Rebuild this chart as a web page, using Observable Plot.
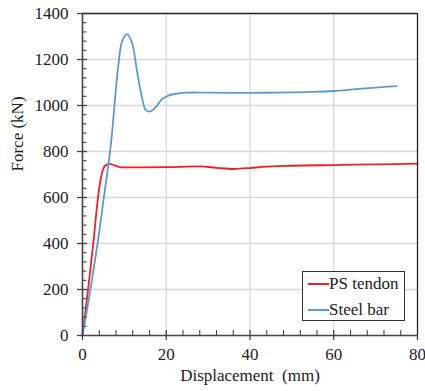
<!DOCTYPE html>
<html>
<head>
<meta charset="utf-8">
<script src="https://cdn.jsdelivr.net/npm/d3@7"></script>
<script src="https://cdn.jsdelivr.net/npm/@observablehq/plot@0.6"></script>
<style>
  body { margin: 0; background: white; }
  #wrap { position: relative; width: 425px; height: 391px; font-family: "Liberation Serif", "Times New Roman", serif; }
  #wrap svg text { font-family: "Liberation Serif", "Times New Roman", serif; }
  #legend { position: absolute; left: 302px; top: 271px; width: 101px; height: 48px; border: 1px solid #333; background: white; }
  .row { position: absolute; left: 0; height: 20px; font-size: 17px; line-height: 20px; color: #222; white-space: nowrap; }
  .row .sw { position: absolute; left: 5px; top: 9px; width: 21px; height: 0; border-top: 2px solid; }
  .row span.t { position: absolute; left: 26px; top: 0; }
</style>
</head>
<body>
<div id="wrap"></div>
<script>
// Data
const seriesNames = ["PS tendon", "Steel bar"];
const seriesColors = ["#f02020", "#5b9bd5"];

const psDisp  = [0, 1.3, 2.6, 3.7, 4.4, 5.1, 5.8, 6.5, 7.9, 9.5, 12, 20, 28, 32, 36, 40, 43, 50, 60, 70, 80];
const psForce = [0, 195, 405, 600, 685, 730, 743, 746, 738, 731, 731, 732, 735, 729, 724, 728, 733, 738, 741, 744, 747];

const steelDisp  = [0, 1.9, 3.6, 5.1, 6.6, 7.1, 8.5, 9.5, 10.7, 11.9, 13.0, 14.2, 15.0, 16.0, 17.4, 19.0, 20.4, 22, 25, 30, 40, 50, 55, 60, 63, 66, 70, 75];
const steelForce = [0, 200, 400, 600, 803, 890, 1165, 1281, 1310, 1267, 1151, 1035, 984, 973, 991, 1028, 1042, 1050, 1056, 1056, 1055, 1057, 1059, 1063, 1067, 1072, 1078, 1084];

const xMajor = [0, 20, 40, 60, 80];
const xMinor = [4, 8, 12, 16, 24, 28, 32, 36, 44, 48, 52, 56, 64, 68, 72, 76];
const yMajor = [0, 200, 400, 600, 800, 1000, 1200, 1400];
const yMinor = [40, 80, 120, 160, 240, 280, 320, 360, 440, 480, 520, 560, 640, 680, 720, 760, 840, 880, 920, 960, 1040, 1080, 1120, 1160, 1240, 1280, 1320, 1360];

const psData = psDisp.map((d, i) => ({x: d, y: psForce[i]}));
const steelData = steelDisp.map((d, i) => ({x: d, y: steelForce[i]}));

const W = 425, H = 391, mL = 82, mR = 8, mT = 13, mB = 56;
const innerW = W - mL - mR, innerH = H - mT - mB;
const axisColor = "#444";
const serif = "Liberation Serif";

const chart = Plot.plot({
  width: W, height: H,
  marginLeft: mL, marginRight: mR, marginTop: mT, marginBottom: mB,
  x: {domain: [0, 80]},
  y: {domain: [0, 1400]},
  style: {fontFamily: serif, fontSize: "17px", color: "#222", background: "white", overflow: "visible"},
  marks: [
    Plot.gridX(xMajor.slice(1, -1), {stroke: "#d9d9d9", strokeOpacity: 1, strokeWidth: 1.3}),
    Plot.gridY(yMajor.slice(1, -1), {stroke: "#d9d9d9", strokeOpacity: 1, strokeWidth: 1.3}),
    Plot.line(psData, {x: "x", y: "y", stroke: seriesColors[0], strokeWidth: 1.8, curve: "monotone-x"}),
    Plot.line(steelData, {x: "x", y: "y", stroke: seriesColors[1], strokeWidth: 1.8, curve: "catmull-rom"}),
    // frame
    Plot.ruleX([80], {stroke: "#222", strokeWidth: 1.3}),
    Plot.ruleY([1400], {stroke: "#222", strokeWidth: 1.3}),
    Plot.ruleX([0], {stroke: axisColor, strokeWidth: 1.6}),
    Plot.ruleY([0], {stroke: axisColor, strokeWidth: 1.6}),
    // outward ticks + labels
    Plot.axisX({ticks: xMajor, tickSize: 5, tickPadding: 7, label: null, stroke: axisColor, strokeWidth: 1.3, tickFormat: d3.format("d"), fontFamily: serif, fontSize: 17, fill: "#222"}),
    Plot.axisY({ticks: yMajor, tickSize: 5, tickPadding: 9, label: null, stroke: axisColor, strokeWidth: 1.3, tickFormat: d3.format("d"), fontFamily: serif, fontSize: 17, fill: "#222"}),
    // inward ticks
    Plot.tickX(xMajor.slice(0, -1), {x: d => d, insetTop: innerH - 5, stroke: axisColor, strokeWidth: 1.3}),
    Plot.tickX(xMinor, {x: d => d, insetTop: innerH - 5, stroke: axisColor, strokeWidth: 1.1}),
    Plot.tickY(yMajor.slice(1), {y: d => d, insetRight: innerW - 5, stroke: axisColor, strokeWidth: 1.3}),
    Plot.tickY(yMinor, {y: d => d, insetRight: innerW - 4.5, stroke: axisColor, strokeWidth: 1.1}),
    // axis titles
    Plot.text(["Force (kN)"], {frameAnchor: "left", dx: -65, dy: -3, rotate: -90, fill: "#222", fontSize: 17, fontFamily: serif}),
    Plot.text(["Displacement  (mm)"], {frameAnchor: "bottom", dy: 45, fill: "#222", fontSize: 17, fontFamily: serif})
  ]
});

const wrap = document.getElementById("wrap");
wrap.appendChild(chart);

const legend = document.createElement("div");
legend.id = "legend";
seriesNames.forEach((name, i) => {
  const row = document.createElement("div");
  row.className = "row";
  row.style.top = (i === 0 ? 2 : 28) + "px";
  row.style.width = "100%";
  const sw = document.createElement("div");
  sw.className = "sw";
  sw.style.borderTopColor = seriesColors[i];
  const t = document.createElement("span");
  t.className = "t";
  t.textContent = name;
  row.appendChild(sw);
  row.appendChild(t);
  legend.appendChild(row);
});
wrap.appendChild(legend);
</script>
</body>
</html>
